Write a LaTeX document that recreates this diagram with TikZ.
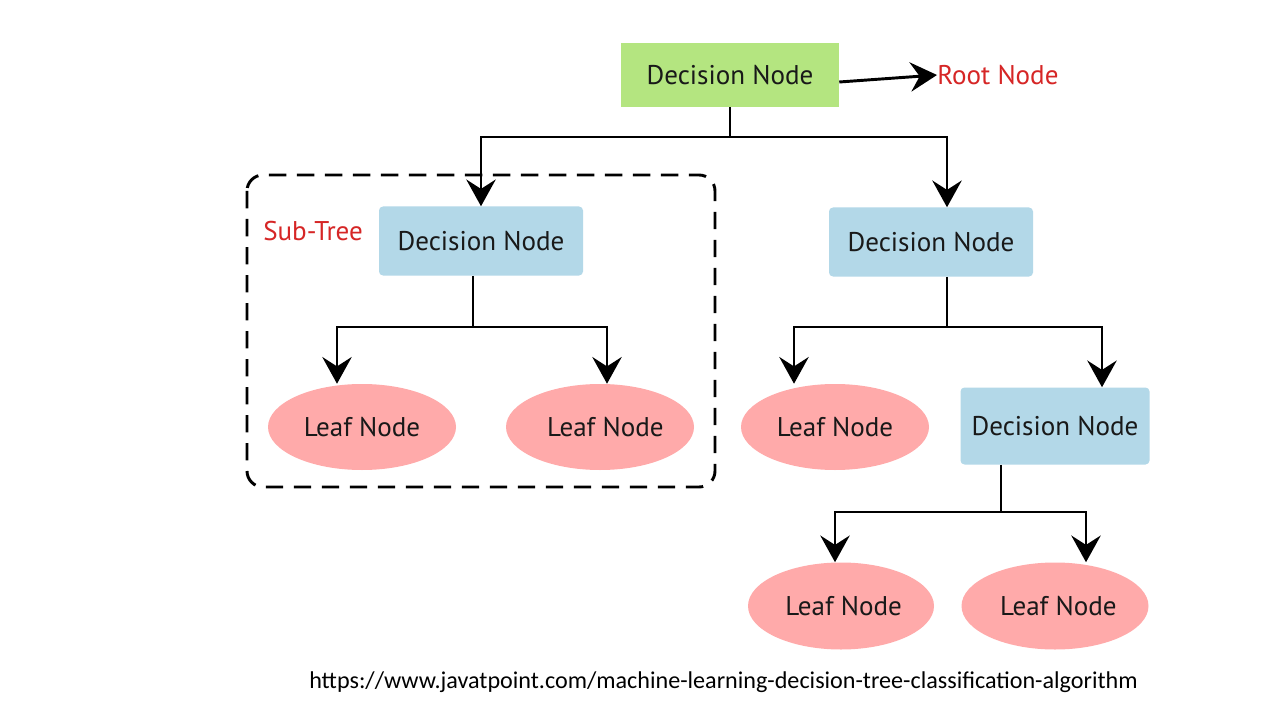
\documentclass[tikz,border=0pt]{standalone}
\usepackage{fontspec}
\setmainfont{PT Sans}
\newfontfamily\urlfont{Carlito}
\usetikzlibrary{arrows.meta,shapes.geometric}
\definecolor{rootgreen}{RGB}{180,229,128}
\definecolor{decblue}{RGB}{179,216,232}
\definecolor{leafpink}{RGB}{255,170,170}
\definecolor{labelred}{RGB}{214,38,38}
\begin{document}
\begin{tikzpicture}[x=0.75pt,y=-0.75pt,
  txt/.style={font=\fontsize{20.3}{22}\selectfont, text=black!90},
  rootbox/.style={txt, fill=rootgreen, minimum width=218*0.75pt, minimum height=64*0.75pt, inner sep=0pt},
  decbox/.style={txt, fill=decblue, rounded corners=3pt, minimum width=204*0.75pt, minimum height=69*0.75pt, inner sep=0pt},
  leaf/.style={txt, fill=leafpink, ellipse, minimum width=188*0.75pt, minimum height=86*0.75pt, inner sep=0pt},
  redlabel/.style={font=\fontsize{20.3}{22}\selectfont, text=labelred, inner sep=0pt},
  conn/.style={line width=2.2pt, -{Stealth[length=20pt,width=22pt,inset=7pt]}},
  plain/.style={line width=2.2pt}
]
\useasboundingbox (0,0) rectangle (1280,720);
\fill[white] (0,0) rectangle (1280,720);

% sub-tree frame
\draw[line width=2.2pt, dash pattern=on 13pt off 8pt, rounded corners=12pt] (247,175) rectangle (715,487);

% nodes
\node[rootbox] (root) at (730,75) {Decision Node};
\node[redlabel, anchor=west] (rootlbl) at (937,75) {Root Node};
\node[redlabel, anchor=west] (sublbl) at (263,231) {Sub-Tree};

\node[decbox] (dl) at (481,241) {\raisebox{-3pt}{Decision Node}};
\node[decbox] (dr) at (931,242) {Decision Node};
\node[leaf] (l1) at (362,427) {Leaf Node};
\node[leaf] (l2) at (600,427) {\hspace{8pt}Leaf Node};
\node[leaf] (l3) at (835,427) {Leaf Node};
\node[decbox, minimum width=189*0.75pt, minimum height=77*0.75pt] (d3) at (1055,426) {Decision Node};
\node[leaf, minimum width=186*0.75pt, minimum height=87*0.75pt] (l4) at (841,606) {\hspace{4pt}Leaf Node};
\node[leaf, minimum width=187*0.75pt, minimum height=87*0.75pt] (l5) at (1055,606) {\hspace{5pt}Leaf Node};

\node[font=\urlfont\fontsize{18.1}{20}\selectfont, anchor=west, inner sep=0pt] (url) at (309,682) {https://www.javatpoint.com/machine-learning-decision-tree-classification-algorithm};

% connectors
\draw[conn] (root.east |- 0,82) -- (rootlbl.west);
\coordinate (j0) at (730,137);
\draw[plain] (root.south) -- (j0);
\draw[conn] (j0) -| (dl.north);
\draw[conn] (j0) -| (dr.north -| 947,0);

\coordinate (j1) at (473,327);
\draw[plain] (dl.south -| j1) -- (j1);
\draw[conn] (j1) -| (l1.north -| 337,0);
\draw[conn] (j1) -| (l2.north -| 607,0);

\coordinate (j2) at (947,327);
\draw[plain] (dr.south -| j2) -- (j2);
\draw[conn] (j2) -| (l3.north -| 794,0);
\draw[conn] (j2) -| (d3.north -| 1102,0);

\coordinate (j3) at (1001,512);
\draw[plain] (d3.south -| j3) -- (j3);
\draw[conn] (j3) -| (l4.north -| 835,0);
\draw[conn] (j3) -| (l5.north -| 1086,0);
\end{tikzpicture}
\end{document}
